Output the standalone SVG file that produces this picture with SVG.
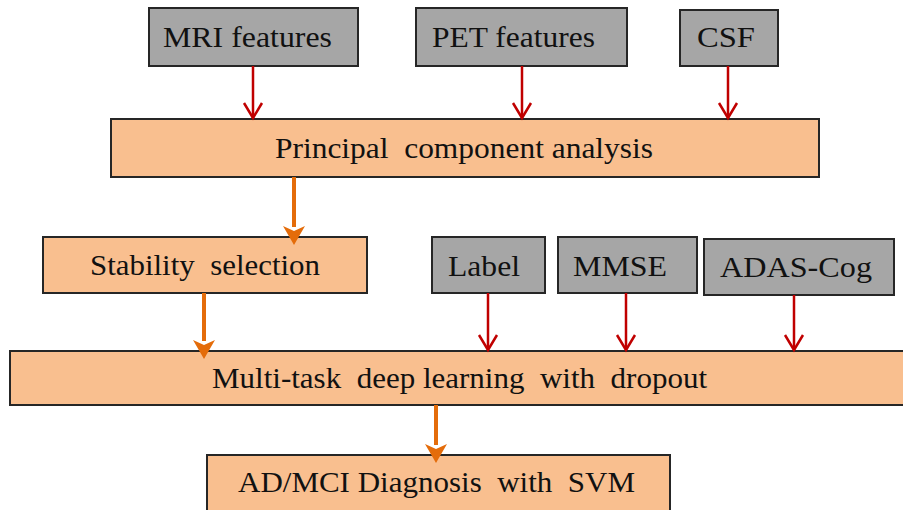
<svg xmlns="http://www.w3.org/2000/svg" width="903" height="510" viewBox="0 0 903 510">
<style>
.g{fill:#a6a6a6;stroke:#262626;stroke-width:2}
.o{fill:#f9bf8f;stroke:#262626;stroke-width:2}
text{font-family:'Liberation Serif','Times New Roman',Times,serif;font-size:29px;fill:#111}
.ra{stroke:#c00000;stroke-width:2.5;fill:none;marker-end:url(#rh)}
.oa{stroke:#e46c0a;stroke-width:4;fill:none;marker-end:url(#oh)}
</style>
<defs>
<marker id="rh" markerUnits="userSpaceOnUse" viewBox="-18 -12 22 24" markerWidth="22" markerHeight="24" refX="0" refY="0" orient="auto">
<path d="M-15,-9 L0,0 L-15,9" stroke="#c00000" stroke-width="2.5" fill="none"/>
</marker>
<marker id="oh" markerUnits="userSpaceOnUse" viewBox="-12 -12 24 24" markerWidth="24" markerHeight="24" refX="-9" refY="0" orient="auto">
<path d="M9,0 L-10,-11 L-5,0 L-10,11 Z" fill="#e46c0a"/>
</marker>
</defs>
<g id="mri"><rect class="g" x="149" y="8" width="209" height="58"/><text x="163" y="47" textLength="169" lengthAdjust="spacingAndGlyphs">MRI features</text></g>
<g id="pet"><rect class="g" x="416" y="8" width="211" height="58"/><text x="432" y="47" textLength="163" lengthAdjust="spacingAndGlyphs">PET features</text></g>
<g id="csf"><rect class="g" x="680" y="10" width="98" height="56"/><text x="697" y="47" textLength="58" lengthAdjust="spacingAndGlyphs">CSF</text></g>
<g id="pca"><rect class="o" x="111" y="119" width="708" height="58"/><text x="275" y="158" textLength="378" lengthAdjust="spacingAndGlyphs" xml:space="preserve">Principal  component analysis</text></g>
<g id="stability"><rect class="o" x="43" y="237" width="324" height="56"/><text x="90" y="275" textLength="230" lengthAdjust="spacingAndGlyphs" xml:space="preserve">Stability  selection</text></g>
<g id="label"><rect class="g" x="432" y="237" width="113" height="56"/><text x="448" y="276" textLength="72" lengthAdjust="spacingAndGlyphs">Label</text></g>
<g id="mmse"><rect class="g" x="558" y="237" width="139" height="56"/><text x="573" y="276" textLength="94" lengthAdjust="spacingAndGlyphs">MMSE</text></g>
<g id="adas"><rect class="g" x="704" y="239" width="190" height="56"/><text x="720" y="277" textLength="152" lengthAdjust="spacingAndGlyphs">ADAS-Cog</text></g>
<g id="mtdl"><rect class="o" x="10" y="351" width="900" height="54"/><text x="212" y="388" textLength="495" lengthAdjust="spacingAndGlyphs" xml:space="preserve">Multi-task  deep learning  with  dropout</text></g>
<g id="svm"><rect class="o" x="207" y="455" width="463" height="60"/><text x="238" y="492" textLength="397" lengthAdjust="spacingAndGlyphs" xml:space="preserve">AD/MCI Diagnosis  with  SVM</text></g>
<g id="connectors">
<line class="ra" x1="253" y1="66" x2="253" y2="118"/>
<line class="ra" x1="522" y1="66" x2="522" y2="118"/>
<line class="ra" x1="728" y1="66" x2="728" y2="118"/>
<line class="oa" x1="294" y1="177" x2="294" y2="227"/>
<line class="ra" x1="488" y1="293" x2="488" y2="350"/>
<line class="ra" x1="626" y1="293" x2="626" y2="350"/>
<line class="ra" x1="794" y1="295" x2="794" y2="350"/>
<line class="oa" x1="204" y1="293" x2="204" y2="341"/>
<line class="oa" x1="436" y1="405" x2="436" y2="445"/>
</g>
</svg>
